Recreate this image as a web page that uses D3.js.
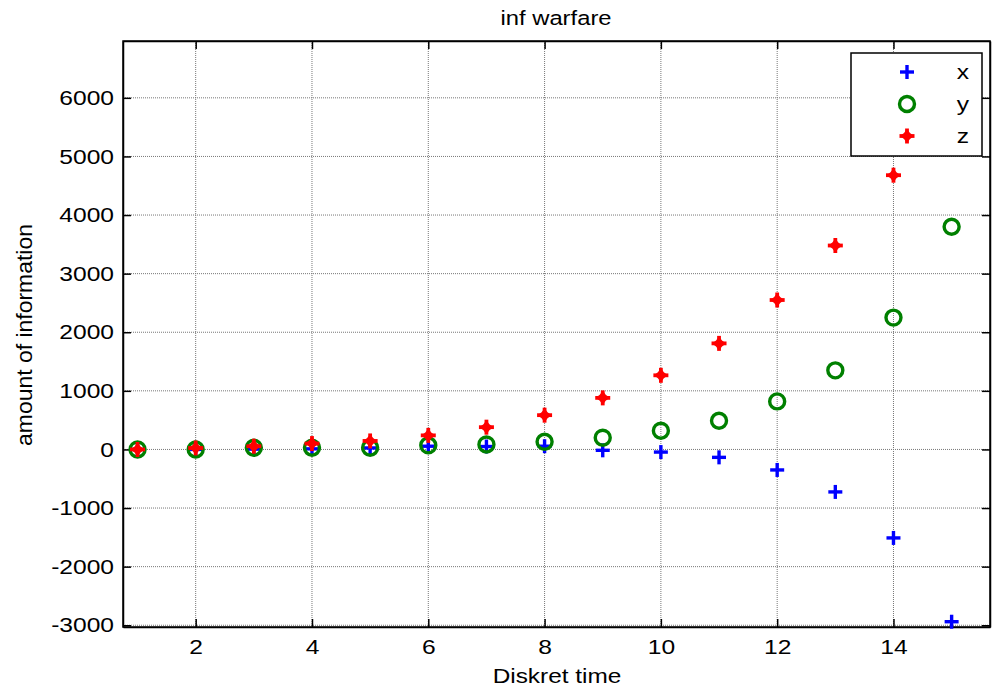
<!DOCTYPE html>
<html>
<head>
<meta charset="utf-8">
<script src="https://cdn.jsdelivr.net/npm/d3@7"></script>
<style>
  body { margin: 0; background: #fff; }
  text { font-family: "Liberation Sans", Arial, sans-serif; fill: #000; }
</style>
</head>
<body>
<svg width="992" height="690"></svg>
<script>
// data
const steps = [1, 2, 3, 4, 5, 6, 7, 8, 9, 10, 11, 12, 13, 14, 15];
const xVals = [0, 0, 5, 10, 25, 55, 50, 55, -15, -45, -135, -350, -725, -1510, -2940];
const yVals = [0, 0, 30, 30, 30, 70, 85, 130, 200, 320, 490, 820, 1350, 2250, 3800];
const zVals = [0, 25, 55, 100, 145, 240, 380, 585, 880, 1265, 1810, 2550, 3480, 4680];
const xTicks = [2, 4, 6, 8, 10, 12, 14];
const yTicks = [-3000, -2000, -1000, 0, 1000, 2000, 3000, 4000, 5000, 6000];

// text in the original is stretched sideways
const stretch = "scale(1.2,1)";

const margin = {top: 41, right: 2, bottom: 63, left: 123},
    width = 992 - margin.left - margin.right,
    height = 690 - margin.top - margin.bottom;

const svg = d3.select("svg")
  .append("g")
    .attr("transform", "translate(" + margin.left + "," + margin.top + ")");

// scales
const xScale = d3.scaleLinear()
    .domain([0.75, 15.66])
    .range([0, width]);

const yScale = d3.scaleLinear()
    .domain([-3030, 6970])
    .range([height, 0]);

// grid
svg.append("g")
    .selectAll("line")
    .data(xTicks)
    .join("line")
    .attr("x1", d => xScale(d)).attr("x2", d => xScale(d))
    .attr("y1", 0).attr("y2", height)
    .attr("stroke", "#777").attr("stroke-width", 1)
    .attr("stroke-dasharray", "1,1");

svg.append("g")
    .selectAll("line")
    .data(yTicks)
    .join("line")
    .attr("x1", 0).attr("x2", width)
    .attr("y1", d => yScale(d)).attr("y2", d => yScale(d))
    .attr("stroke", "#777").attr("stroke-width", 1)
    .attr("stroke-dasharray", "1,1");

// axes (ticks inside, box on all sides)
const fmt = d => String(d);
svg.append("g")
    .attr("transform", "translate(0," + height + ")")
    .call(d3.axisBottom(xScale).tickValues(xTicks).tickFormat(fmt).tickSizeInner(-8).tickSizeOuter(0).tickPadding(12));
svg.append("g")
    .call(d3.axisLeft(yScale).tickValues(yTicks).tickFormat(fmt).tickSizeInner(-8).tickSizeOuter(0).tickPadding(7.5));
svg.append("g")
    .call(d3.axisTop(xScale).tickValues(xTicks).tickSizeInner(-8).tickSizeOuter(0).tickFormat(""));
svg.append("g")
    .attr("transform", "translate(" + width + ",0)")
    .call(d3.axisRight(yScale).tickValues(yTicks).tickSizeInner(-8).tickSizeOuter(0).tickFormat(""));

svg.selectAll(".domain").attr("stroke", "#000").attr("stroke-width", 1.5);
svg.selectAll(".tick line").attr("stroke", "#000").attr("stroke-width", 1.5);
svg.selectAll(".tick text")
    .style("font-size", "20.5px")
    .attr("transform", stretch);

svg.append("rect")
    .attr("width", width).attr("height", height)
    .attr("fill", "none").attr("stroke", "#000").attr("stroke-width", 1.5);

// markers
const plus = (g, color) => {
  g.append("line").attr("x1", -7).attr("x2", 7).attr("stroke", color).attr("stroke-width", 3.4);
  g.append("line").attr("y1", -7).attr("y2", 7).attr("stroke", color).attr("stroke-width", 3.4);
};
const fatPlus = (g, color) => {
  g.append("path")
    .attr("d", "M-7,0 L-3,-3 L0,-7 L3,-3 L7,0 L3,3 L0,7 L-3,3 Z")
    .attr("fill", color);
  g.append("line").attr("x1", -7.5).attr("x2", 7.5).attr("stroke", color).attr("stroke-width", 3.8);
  g.append("line").attr("y1", -7.5).attr("y2", 7.5).attr("stroke", color).attr("stroke-width", 3.8);
};
const circ = (g, color) => {
  g.append("circle").attr("r", 7.5).attr("fill", "none").attr("stroke", color).attr("stroke-width", 3.4);
};

svg.selectAll(".mx")
    .data(xVals)
    .join("g")
    .attr("class", "mx")
    .attr("transform", (d, i) => `translate(${xScale(steps[i])},${yScale(d)})`)
    .each(function() { plus(d3.select(this), "#0000ff"); });

svg.selectAll(".my")
    .data(yVals)
    .join("g")
    .attr("class", "my")
    .attr("transform", (d, i) => `translate(${xScale(steps[i])},${yScale(d)})`)
    .each(function() { circ(d3.select(this), "#008000"); });

svg.selectAll(".mz")
    .data(zVals)
    .join("g")
    .attr("class", "mz")
    .attr("transform", (d, i) => `translate(${xScale(steps[i])},${yScale(d)})`)
    .each(function() { fatPlus(d3.select(this), "#ff0000"); });

// title and labels
svg.append("text")
    .attr("transform", `translate(${556 - margin.left},${25 - margin.top}) scale(1.22,1)`)
    .style("text-anchor", "middle")
    .style("font-size", "19.5px")
    .text("inf warfare");

svg.append("text")
    .attr("transform", `translate(${557 - margin.left},${683 - margin.top}) scale(1.22,1)`)
    .style("text-anchor", "middle")
    .style("font-size", "20px")
    .text("Diskret time");

svg.append("text")
    .attr("transform", `translate(${32 - margin.left},${335 - margin.top}) rotate(-90)`)
    .style("text-anchor", "middle")
    .style("font-size", "22px")
    .attr("textLength", 222)
    .attr("lengthAdjust", "spacingAndGlyphs")
    .text("amount of information");

// legend
const legend = svg.append("g")
    .attr("transform", `translate(${851 - margin.left},${53 - margin.top})`);
legend.append("rect")
    .attr("width", 131).attr("height", 103)
    .attr("fill", "#fff").attr("stroke", "#000").attr("stroke-width", 1.5);
const keys = [["x", plus, "#0000ff"], ["y", circ, "#008000"], ["z", fatPlus, "#ff0000"]];
keys.forEach((k, i) => {
  const g = legend.append("g").attr("transform", `translate(56,${19 + i * 32})`);
  k[1](g, k[2]);
  legend.append("text")
    .attr("transform", `translate(112,${19 + i * 32}) ${stretch}`)
    .attr("dy", "0.35em")
    .style("text-anchor", "middle")
    .style("font-size", "20.5px")
    .text(k[0]);
});
</script>
</body>
</html>
